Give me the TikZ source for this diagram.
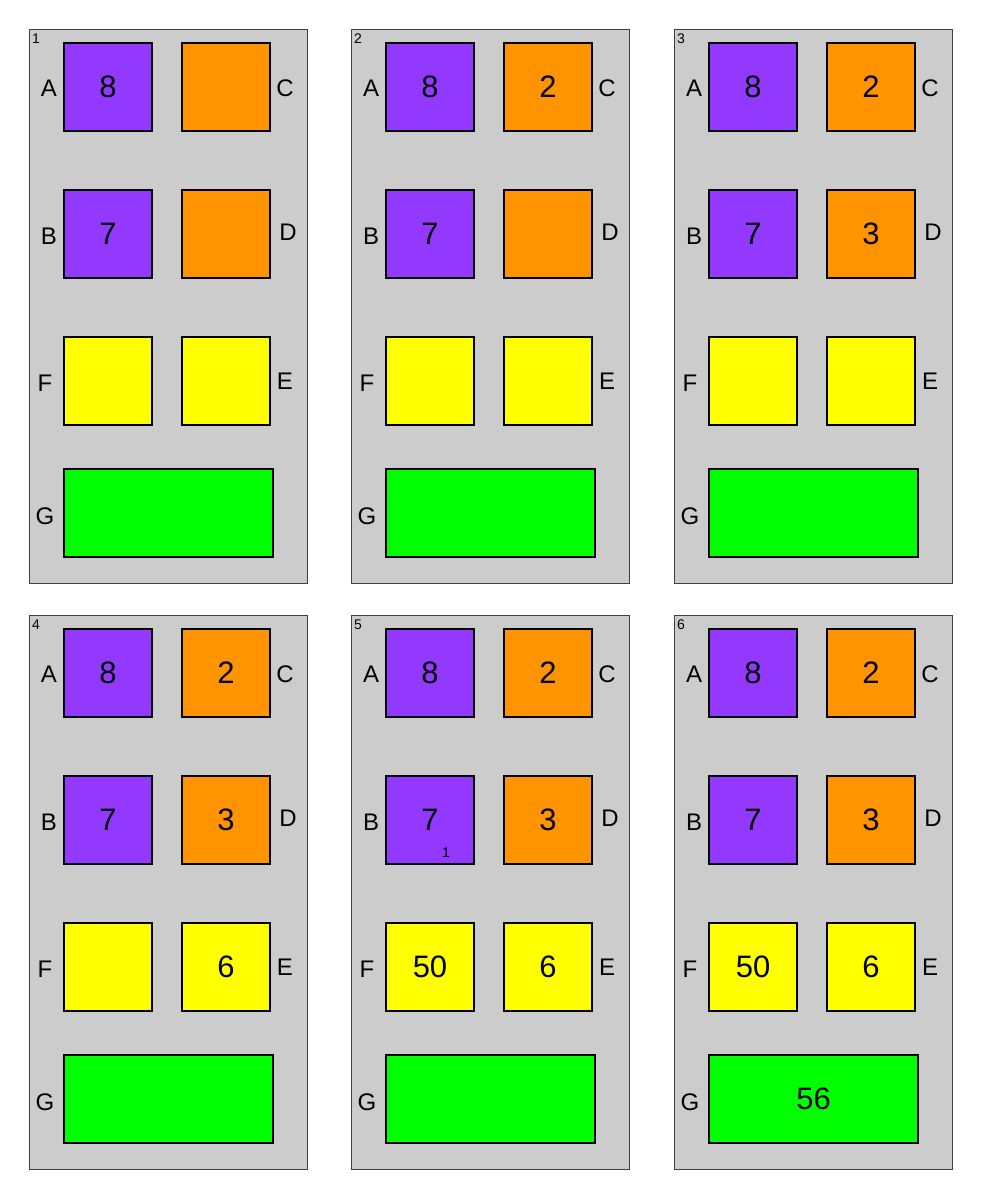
\documentclass[tikz,border=0pt]{standalone}
\usepackage{fontspec}
\setmainfont{Liberation Sans}
\usetikzlibrary{positioning}
\definecolor{boxpurple}{RGB}{147,56,255}
\definecolor{boxorange}{RGB}{255,148,0}
\definecolor{boxyellow}{RGB}{255,255,0}
\definecolor{boxgreen}{RGB}{0,255,0}
\definecolor{panelgray}{RGB}{204,204,204}
\begin{document}
\begin{tikzpicture}[x=1pt,y=-1pt,
	panel/.style={draw=black!75, fill=panelgray, line width=1pt, minimum width=278pt, minimum height=554pt, inner sep=0pt, anchor=north west},
	cell/.style={draw=black, line width=1.8pt, minimum width=88pt, minimum height=88pt, inner sep=0pt, font=\fontsize{31}{33}\selectfont},
	letter/.style={font=\fontsize{24}{26}\selectfont, inner sep=0pt},
	smallnum/.style={font=\fontsize{14}{15}\selectfont, inner sep=0pt}]
	\useasboundingbox (0,0) rectangle (982,1200);
	\foreach \p/\px/\py/\vc/\vd/\ve/\vf/\vg in {1/29/29/{}/{}/{}/{}/{}, 2/351/29/2/{}/{}/{}/{}, 3/674/29/2/3/{}/{}/{}, 4/29/615/2/3/6/{}/{}, 5/351/615/2/3/6/50/{}, 6/674/615/2/3/6/50/56}{
		\begin{scope}[shift={(\px,\py)}]
			\node[panel] (P\p) at (0,0) {};
			\node[smallnum] (N\p) at (7,10) {\p};
			\node[cell, fill=boxpurple] (A\p) at (79,58) {8};
			\node[cell, fill=boxorange] (C\p) at (197,58) {\vc};
			\node[cell, fill=boxpurple] (B\p) at (79,205) {7};
			\node[cell, fill=boxorange] (D\p) at (197,205) {\vd};
			\node[cell, fill=boxyellow] (F\p) at (79,352) {\vf};
			\node[cell, fill=boxyellow] (E\p) at (197,352) {\ve};
			\node[cell, fill=boxgreen, minimum width=209pt] (G\p) at (139.5,484) {\vg};
			% letters beside the boxes
			\node[letter] at (20,59) {A};
			\node[letter] at (256,59) {C};
			\node[letter] at (20,207) {B};
			\node[letter] at (259,203) {D};
			\node[letter] at (16,354) {F};
			\node[letter] at (256,352) {E};
			\node[letter] at (16,487) {G};
		\end{scope}
	}
	\node[smallnum] (mark) at ([xshift=16pt,yshift=-33pt]B5.center) {1};
\end{tikzpicture}
\end{document}
